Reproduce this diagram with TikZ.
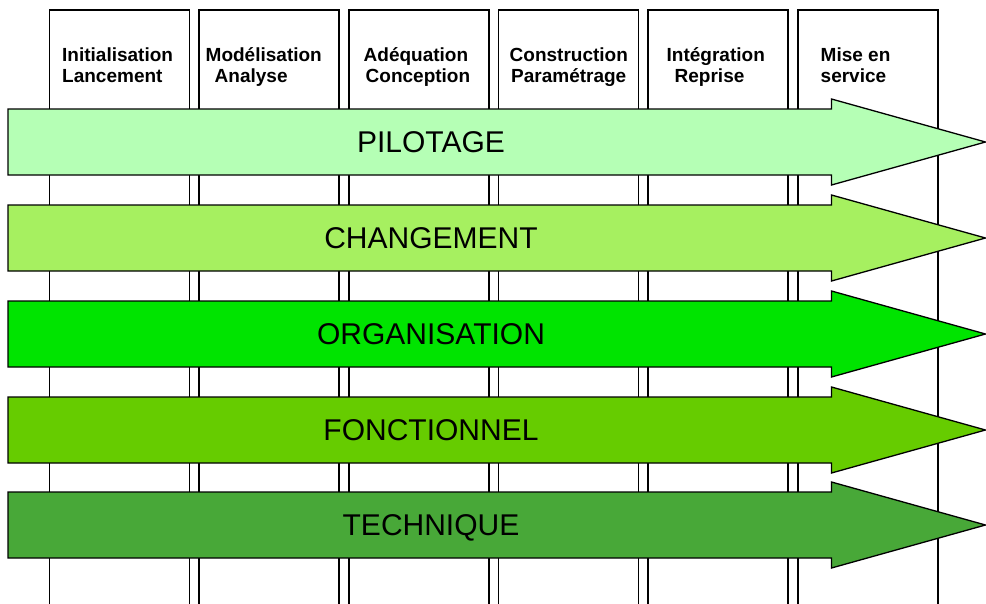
\documentclass[tikz,border=0pt]{standalone}
\usepackage{fontspec}
\setmainfont{Liberation Sans}
\definecolor{cpil}{RGB}{181,255,181}
\definecolor{cchg}{RGB}{166,240,96}
\definecolor{corg}{RGB}{0,228,0}
\definecolor{cfon}{RGB}{102,204,0}
\definecolor{ctec}{RGB}{72,168,56}
\tikzset{
  colbox/.style={draw=black, line width=1.2pt, fill=white},
  bandarrow/.style={draw=black, line width=1.3pt, line join=miter},
  hdr/.style={inner sep=0pt, anchor=base west, font=\fontsize{19}{21}\selectfont\bfseries},
  bandlabel/.style={inner sep=0pt, anchor=base, font=\fontsize{30}{34}\selectfont}
}
\begin{document}
\begin{tikzpicture}[x=1pt, y=-1pt]
\useasboundingbox (0,0) rectangle (986,603);
% columns
\foreach \lx in {49.5,199,349,498.5,648,798}{
  \draw[colbox] (\lx,10) rectangle ({\lx+140},640);
}
% headers
\foreach \i/\xa/\ta/\xb/\tb in {
  1/62/Initialisation/62/Lancement,
  2/205.5/Modélisation/214.5/Analyse,
  3/363.5/Adéquation/365.5/Conception,
  4/509.5/Construction/511/Paramétrage,
  5/666.5/Intégration/674.5/Reprise,
  6/820.5/Mise en/820.5/service}{
  \node[hdr] (h\i a) at (\xa,61) {\ta};
  \node[hdr] (h\i b) at (\xb,82) {\tb};
}
% band arrows
\foreach \cy/\col/\lab/\nm in {
  142/cpil/PILOTAGE/pil,
  238/cchg/CHANGEMENT/chg,
  334/corg/ORGANISATION/org,
  430/cfon/FONCTIONNEL/fon,
  525/ctec/TECHNIQUE/tec}{
  \draw[bandarrow, fill=\col] (8,\cy-33) -- (831.5,\cy-33) -- (831.5,\cy-43)
     -- (985.5,\cy) -- (831.5,\cy+43) -- (831.5,\cy+33) -- (8,\cy+33) -- cycle;
  \node[bandlabel] (\nm) at (431,\cy+10.5) {\lab};
}
\end{tikzpicture}
\end{document}
